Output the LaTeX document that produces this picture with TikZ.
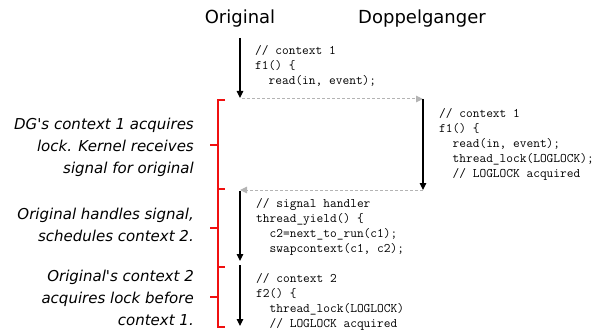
\documentclass[tikz,border=0pt]{standalone}
\usepackage{fontspec}
\setmainfont{DejaVu Sans}
\usetikzlibrary{arrows.meta}
\definecolor{dashgray}{HTML}{B4B4B4}
\definecolor{brred}{HTML}{F01010}
\tikzset{
  title/.style={anchor=base, inner sep=0pt, font=\fontsize{18}{22}\selectfont},
  codeblock/.style={anchor=north west, inner sep=0pt, align=left,
    font=\ttfamily\fontsize{13.05}{15}\selectfont},
  note/.style={anchor=north east, inner sep=0pt, align=right,
    font=\itshape\fontsize{15}{22}\selectfont},
  flow/.style={line width=1.2pt, -{Triangle[length=7pt,width=6.5pt]}},
  handoff/.style={dashgray, line width=1pt, dash pattern=on 3pt off 2pt,
    -{Triangle[length=7pt,width=6.5pt]}},
  bracket/.style={brred, line width=1.3pt},
}
\begin{document}
\begin{tikzpicture}[x=1pt, y=-1pt]
\useasboundingbox (0,0) rectangle (597,334);

% column headings
\node[title] (orig) at (240,24) {Original};
\node[title] (dopp) at (422,24) {Doppelganger};

% timeline points
\coordinate (o0) at (240,38);
\coordinate (o1) at (240,98);
\coordinate (o1s) at (242,99);
\coordinate (d0) at (423,99);
\coordinate (d1) at (423,190);
\coordinate (o2) at (240,190);
\coordinate (o2s) at (240,191);
\coordinate (o3) at (240,261);
\coordinate (o3s) at (240,265);
\coordinate (o4) at (240,326);

% execution flow
\draw[flow] (o0) -- (o1);
\draw[handoff] (o1s) -- (d0);
\draw[flow] (d0) -- (d1);
\draw[handoff] (d1) -- (o2);
\draw[flow] (o2s) -- (o3);
\draw[flow] (o3s) -- (o4);

% code listings
\node[codeblock] (codeA) at (255,43.5) {\strut// context 1\\f1() \{\\\ \ read(in, event);};
\node[codeblock] (codeB) at (439,106.5) {\strut// context 1\\f1() \{\\\ \ read(in, event);\\\ \ thread\_lock(LOGLOCK);\\\ \ // LOGLOCK acquired};
\node[codeblock] (codeC) at (256,196.5) {\strut// signal handler\\thread\_yield() \{\\\ \ c2=next\_to\_run(c1);\\\ \ swapcontext(c1, c2);};
\node[codeblock] (codeD) at (256,271.5) {\strut// context 2\\f2() \{\\\ \ thread\_lock(LOGLOCK)\\\ \ // LOGLOCK acquired};

% phase brackets
\draw[bracket] (225,100) -- (218,100) -- (218,327) -- (225,327);
\draw[bracket] (218,189) -- (225,189);
\draw[bracket] (218,267) -- (225,267);
\draw[bracket] (210,145) -- (218,145);
\draw[bracket] (210,228) -- (218,228);
\draw[bracket] (210,297) -- (218,297);

% phase descriptions
\node[note] (n1) at (194,114) {\strut DG\textquotesingle s context 1 acquires\\lock. Kernel receives\\signal for original};
\node[note] (n2) at (194,204) {\strut Original handles signal,\\schedules context 2.};
\node[note] (n3) at (194,266) {\strut Original\textquotesingle s context 2\\acquires lock before\\context 1.};
\end{tikzpicture}
\end{document}
